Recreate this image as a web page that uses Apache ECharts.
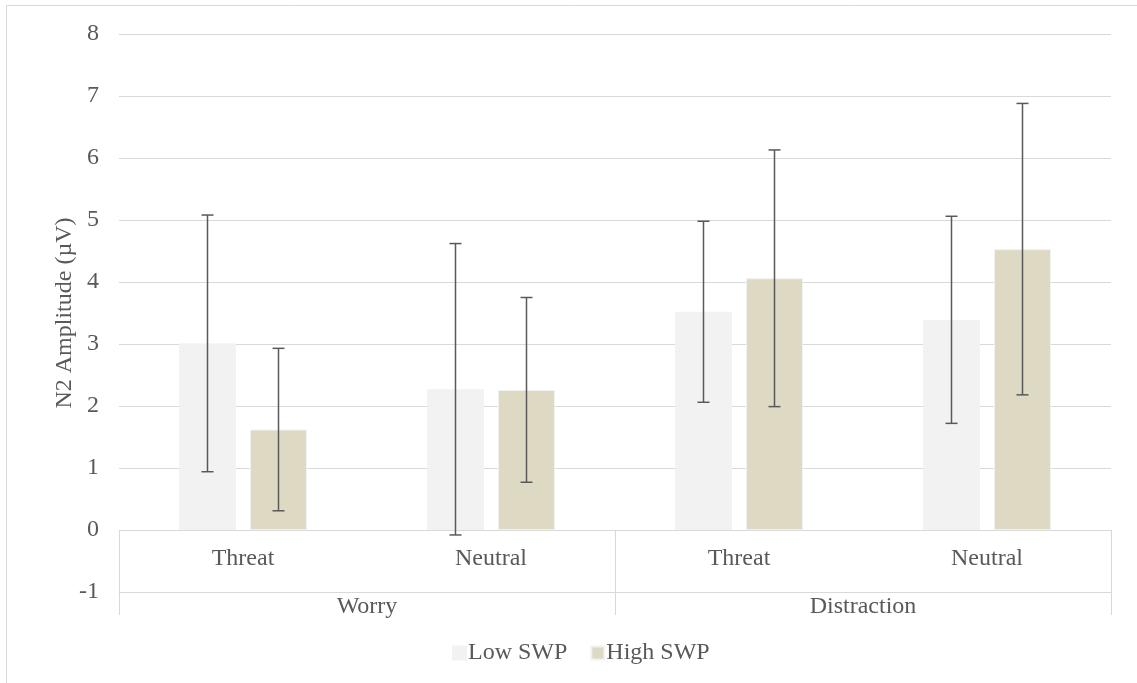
<!DOCTYPE html>
<html>
<head>
<meta charset="utf-8">
<script src="https://cdn.jsdelivr.net/npm/echarts@6/dist/echarts.min.js"></script>
<style>
html,body{margin:0;padding:0;background:#fff;}
#chart{width:1137px;height:683px;}
</style>
</head>
<body>
<div id="chart"></div>
<script>
// ---- data ----
const categories = ['Threat', 'Neutral', 'Threat', 'Neutral'];
const groups = ['Worry', 'Distraction'];
const seriesNames = ['Low SWP', 'High SWP'];
const lowSWP = [3.01, 2.27, 3.52, 3.39];
const highSWP = [1.62, 2.26, 4.06, 4.53];
const lowErr = [2.07, 2.35, 1.46, 1.67];
const highErr = [1.31, 1.49, 2.07, 2.35];
const yTicks = { min: -1, max: 8, interval: 1 };

// ---- style ----
const FONT = "'Liberation Serif', 'Times New Roman', serif";
const TXT = '#595959';
const GRID = '#d9d9d9';
const BAR_W = 57;
const BAR_GAP_PX = 14;
const OFFSET = (BAR_W + BAR_GAP_PX) / 2;

function errSeries(name, means, errs, offset) {
  return {
    type: 'custom',
    name: name + ' err',
    xAxisIndex: 0,
    yAxisIndex: 0,
    z: 10,
    clip: false,
    silent: true,
    encode: { x: 0, y: [1, 2] },
    data: means.map((m, i) => [i, m - errs[i], m + errs[i]]),
    renderItem: function (params, api) {
      const lo = api.coord([api.value(0), api.value(1)]);
      const hi = api.coord([api.value(0), api.value(2)]);
      const x = lo[0] + offset;
      const cap = 6;
      const style = { stroke: '#595959', lineWidth: 1.5 };
      return {
        type: 'group',
        children: [
          { type: 'line', shape: { x1: x, y1: lo[1], x2: x, y2: hi[1] }, style: style },
          { type: 'line', shape: { x1: x - cap, y1: hi[1], x2: x + cap, y2: hi[1] }, style: style },
          { type: 'line', shape: { x1: x - cap, y1: lo[1], x2: x + cap, y2: lo[1] }, style: style }
        ]
      };
    }
  };
}

const chart = echarts.init(document.getElementById('chart'), null, { renderer: 'canvas' });
chart.setOption({
  animation: false,
  backgroundColor: '#ffffff',
  textStyle: { fontFamily: FONT },
  graphic: [{
    type: 'rect',
    shape: { x: 6.5, y: 5.5, width: 1200, height: 1000 },
    style: { fill: 'none', stroke: GRID, lineWidth: 1 },
    silent: true
  }],
  grid: { left: 119, right: 26, top: 34, bottom: 91, containLabel: false },
  legend: {
    data: seriesNames,
    left: 447,
    top: 636,
    itemWidth: 13,
    itemHeight: 13,
    itemGap: 23,
    icon: 'rect',
    textStyle: { fontFamily: FONT, fontSize: 24, color: TXT, padding: [0, 0, 0, -3] }
  },
  xAxis: [
    {
      type: 'category',
      data: categories,
      position: 'bottom',
      offset: -62,
      axisLine: { show: false, onZero: false },
      axisTick: { show: false },
      axisLabel: { fontFamily: FONT, fontSize: 24, color: TXT, margin: 17, interval: 0 },
      splitLine: { show: false }
    },
    {
      type: 'category',
      data: groups,
      position: 'bottom',
      axisLine: { show: true, onZero: false, lineStyle: { color: GRID, width: 1 } },
      axisTick: { show: true, inside: true, length: 62, lineStyle: { color: GRID, width: 1 } },
      axisLabel: { show: false },
      splitLine: { show: false }
    },
    {
      type: 'category',
      data: groups,
      position: 'bottom',
      axisLine: { show: false, onZero: false },
      axisTick: { show: true, inside: false, length: 23, lineStyle: { color: GRID, width: 1 } },
      axisLabel: { fontFamily: FONT, fontSize: 24, color: TXT, margin: 3, interval: 0 },
      splitLine: { show: false }
    }
  ],
  yAxis: {
    type: 'value',
    min: yTicks.min,
    max: yTicks.max,
    interval: yTicks.interval,
    name: 'N2 Amplitude (µV)',
    nameLocation: 'middle',
    nameGap: 42,
    nameMoveOverlap: false,
    nameTextStyle: { fontFamily: FONT, fontSize: 24, color: TXT },
    axisLine: { show: false },
    axisTick: { show: false },
    axisLabel: { fontFamily: FONT, fontSize: 24, color: TXT, margin: 20 },
    splitLine: { show: true, lineStyle: { color: GRID, width: 1 } }
  },
  series: [
    {
      type: 'bar',
      name: seriesNames[0],
      data: lowSWP,
      barWidth: BAR_W,
      barGap: (BAR_GAP_PX / BAR_W * 100) + '%',
      itemStyle: { color: '#F2F2F2', borderColor: '#F2F2F2', borderWidth: 1 }
    },
    {
      type: 'bar',
      name: seriesNames[1],
      data: highSWP,
      barWidth: BAR_W,
      barGap: (BAR_GAP_PX / BAR_W * 100) + '%',
      itemStyle: { color: '#DDD9C3', borderColor: '#F2F2F2', borderWidth: 1 }
    },
    errSeries(seriesNames[0], lowSWP, lowErr, -OFFSET),
    errSeries(seriesNames[1], highSWP, highErr, OFFSET)
  ]
});
</script>
</body>
</html>
